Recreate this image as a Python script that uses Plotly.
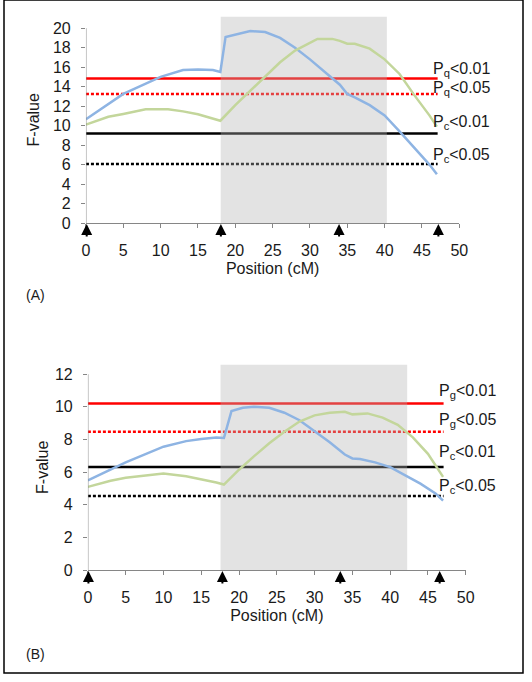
import plotly.graph_objects as go
from plotly.subplots import make_subplots

# Default colors
blue = '#8eb4e3'
green = '#c3d69b'
red = '#ff0000'
axis_color = '#868686'
text_color = '#1a1a1a'
shade_color = 'rgba(180,180,180,0.37)'
font_family = 'Liberation Sans, Arial, sans-serif'

# ---- Panel A data ----
pos_a_blue = [0, 5, 10, 13, 15, 17, 18, 18.7, 22, 24, 26, 28, 30, 32, 34, 35, 36, 38, 40, 42, 44, 46, 47]
f_a_blue = [10.65, 13.25, 15.0, 15.7, 15.75, 15.7, 15.5, 19.1, 19.7, 19.6, 19.0, 18.0, 16.8, 15.5, 14.2,
            13.25, 12.9, 12.1, 11.05, 9.4, 7.7, 6.0, 5.0]
pos_a_green = [0, 3, 5, 8, 11, 13, 15, 18, 20, 22, 24, 26, 28, 30, 31, 33, 34, 35, 36, 38, 40, 42, 44, 46, 47]
f_a_green = [10.1, 10.9, 11.2, 11.67, 11.67, 11.46, 11.16, 10.5, 12.1, 13.6, 15.1, 16.5, 17.7, 18.5, 18.9,
             18.9, 18.7, 18.4, 18.4, 17.9, 16.8, 15.3, 13.1, 11.05, 9.9]
thresholds_a = [14.84, 13.25, 9.2, 6.07]
threshold_labels_a = ['P<sub>q</sub><0.01', 'P<sub>q</sub><0.05', 'P<sub>c</sub><0.01', 'P<sub>c</sub><0.05']
label_shift_a = [9, 5, 11, 8]
shade_a = [18.05, 40.3]
shade_top_a = 21.2
markers_a = [0.1, 18.07, 33.9, 47.2]
line_end_a = 47.1
yticks_a = [0, 2, 4, 6, 8, 10, 12, 14, 16, 18, 20]

# ---- Panel B data ----
pos_b_blue = [0, 5, 10, 13, 15, 17, 18, 19, 20.5, 22, 24, 26, 28, 30, 32, 34, 35, 36, 38, 40, 42, 44, 46, 47]
f_b_blue = [5.5, 6.6, 7.56, 7.9, 8.03, 8.13, 8.09, 9.74, 9.94, 10.0, 9.94, 9.64, 9.18, 8.53, 7.83, 7.08,
            6.84, 6.8, 6.6, 6.31, 5.81, 5.3, 4.7, 4.26]
pos_b_green = [0, 3, 5, 7, 10, 13, 15, 17, 18, 20, 22, 24, 26, 28, 30, 32, 34, 35, 37, 39, 41, 43, 45, 47]
f_b_green = [5.1, 5.47, 5.65, 5.77, 5.91, 5.75, 5.57, 5.37, 5.24, 6.15, 6.98, 7.77, 8.47, 9.1, 9.48, 9.64,
             9.7, 9.54, 9.6, 9.34, 8.9, 8.13, 7.12, 5.71]
thresholds_b = [10.2, 8.47, 6.32, 4.54]
threshold_labels_b = ['P<sub>g</sub><0.01', 'P<sub>g</sub><0.05', 'P<sub>c</sub><0.01', 'P<sub>c</sub><0.05']
label_shift_b = [12, 11, 14, 9]
shade_b = [17.55, 42.25]
shade_top_b = 12.6
markers_b = [0.07, 17.8, 33.4, 46.55]
line_end_b = 47.07
yticks_b = [0, 2, 4, 6, 8, 10, 12]

xticks = [0, 5, 10, 15, 20, 25, 30, 35, 40, 45, 50]
threshold_styles = [(red, 'solid'), (red, '3px,2px'), ('black', 'solid'), ('black', '3px,2px')]

fig = make_subplots(rows=2, cols=1)


def add_panel(row, pos_blue, f_blue, pos_green, f_green, thresholds, labels, shifts,
              shade, shade_top, markers, line_end, yticks, ytitle_gap):
    # threshold lines
    for val, (col, dash) in zip(thresholds, threshold_styles):
        fig.add_trace(go.Scatter(x=[0, line_end], y=[val, val], mode='lines',
                                 line=dict(color=col, width=2.5, dash=dash),
                                 hoverinfo='skip', showlegend=False), row=row, col=1)
    # shaded interval (drawn over the threshold lines, below the curves)
    fig.add_trace(go.Scatter(x=[shade[0], shade[1], shade[1], shade[0], shade[0]],
                             y=[0, 0, shade_top, shade_top, 0], mode='lines', fill='toself',
                             fillcolor=shade_color, line=dict(width=0),
                             hoverinfo='skip', showlegend=False), row=row, col=1)
    fig.add_trace(go.Scatter(x=pos_blue, y=f_blue, mode='lines', line=dict(color=blue, width=2.5),
                             showlegend=False), row=row, col=1)
    fig.add_trace(go.Scatter(x=pos_green, y=f_green, mode='lines', line=dict(color=green, width=2.5),
                             showlegend=False), row=row, col=1)

    xref = 'x' if row == 1 else 'x2'
    yref = 'y' if row == 1 else 'y2'
    for val, lab, sh in zip(thresholds, labels, shifts):
        fig.add_annotation(x=line_end, y=val, xref=xref, yref=yref, text=lab, showarrow=False,
                           xanchor='left', yanchor='middle', xshift=-7, yshift=sh,
                           font=dict(size=16, color=text_color))
    for m in markers:
        fig.add_annotation(x=m, y=0, xref=xref, yref=yref, ax=0, ay=15, text='',
                           showarrow=True, arrowhead=2, arrowsize=1.1, arrowwidth=2,
                           arrowcolor='black', standoff=1)
    # y axis line only up to the top tick
    fig.add_shape(type='line', x0=0, x1=0, y0=0, y1=yticks[-1], xref=xref, yref=yref,
                  line=dict(color=axis_color, width=1))
    fig.update_yaxes(range=[0, shade_top], tickvals=yticks, ticks='outside', ticklen=4,
                     tickcolor=axis_color, showline=False, showgrid=False, zeroline=False,
                     ticklabelstandoff=7, tickfont=dict(size=16),
                     title_text='F-value', title_standoff=ytitle_gap, title_font=dict(size=16),
                     row=row, col=1)
    fig.update_xaxes(range=[0, 50], tickvals=xticks, ticks='outside', ticklen=4,
                     tickcolor=axis_color, showline=True, linecolor=axis_color, linewidth=1,
                     showgrid=False, zeroline=False, ticklabelstandoff=9, tickfont=dict(size=16),
                     title_text='Position (cM)', title_standoff=4, title_font=dict(size=16),
                     row=row, col=1)


add_panel(1, pos_a_blue, f_a_blue, pos_a_green, f_a_green, thresholds_a, threshold_labels_a,
          label_shift_a, shade_a, shade_top_a, markers_a, line_end_a, yticks_a, 9)
add_panel(2, pos_b_blue, f_b_blue, pos_b_green, f_b_green, thresholds_b, threshold_labels_b,
          label_shift_b, shade_b, shade_top_b, markers_b, line_end_b, yticks_b, 2)

fig.update_layout(
    width=532, height=682,
    margin=dict(l=0, r=0, t=0, b=0),
    paper_bgcolor='white', plot_bgcolor='white',
    font=dict(family=font_family, size=16, color=text_color),
    xaxis=dict(domain=[84 / 532, 466.7 / 532]),
    yaxis=dict(domain=[1 - 226 / 682, 1 - 16.7 / 682]),
    xaxis2=dict(domain=[86 / 532, 473.3 / 532]),
    yaxis2=dict(domain=[1 - 577.7 / 682, 1 - 369.3 / 682]),
)

# panel tags
fig.add_annotation(x=20 / 532, y=1 - 299 / 682, xref='paper', yref='paper', text='(A)',
                   showarrow=False, xanchor='left', yanchor='middle', font=dict(size=14))
fig.add_annotation(x=20 / 532, y=1 - 663 / 682, xref='paper', yref='paper', text='(B)',
                   showarrow=False, xanchor='left', yanchor='middle', font=dict(size=14))
# outer frame
fig.add_shape(type='rect', x0=0, x1=1, y0=0, y1=1, xref='paper', yref='paper',
              line=dict(color='black', width=1.5))

# drop the default page margin and scrollbars so the figure sits at the window corner
fig.write_html(
    "out.html",
    config={'displayModeBar': False},
    post_script="document.documentElement.style.overflow='hidden';"
                "document.body.style.margin='0';document.body.style.overflow='hidden';",
)
